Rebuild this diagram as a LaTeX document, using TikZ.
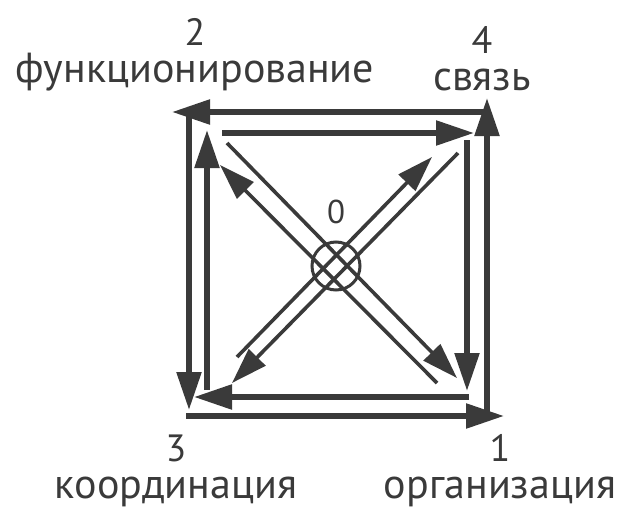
\documentclass[tikz,border=0pt]{standalone}
\usepackage{fontspec}
\setmainfont{PT Sans}
\usepackage{tikz}
\usetikzlibrary{arrows.meta}
\definecolor{ink}{RGB}{58,58,58}
\newcommand{\digitsize}{\fontsize{38}{37}\selectfont}
\tikzset{
  sqarrow/.style={ink, line width=5.5pt, -{Triangle[length=38pt,width=24pt]}},
  diagarrow/.style={ink, line width=3.6pt, -{Triangle[length=36pt,width=23pt]}},
  hub/.style={circle, draw=ink, line width=3pt, minimum size=48pt, inner sep=0pt},
  zerolabel/.style={anchor=base, ink, inner sep=0pt, font=\fontsize{33}{36}\selectfont},
  cornerlabel/.style={anchor=south, ink, inner sep=0pt, align=center,
                      font=\fontsize{42}{37}\selectfont},
}
\begin{document}
\begin{tikzpicture}[x=1pt,y=-1pt]
  \useasboundingbox (0,0) rectangle (619,509);
  % --- kose yazilari ---
  \foreach \k/\x/\y/\w in {2/195/91/функционирование,4/482/91/связь,
                           3/176/507/координация,1/500/507/организация}{
    \node[cornerlabel] (l\k) at (\x,\y) {{\digitsize\k}\\\w};
  }
  % --- dis kare: 1 -> 4 -> 2 -> 3 -> 1 ---
  \coordinate (o1) at (487,416); \coordinate (o4) at (487,112);
  \coordinate (o2) at (189,112); \coordinate (o3) at (186,416);
  \coordinate (o4t) at (487,98);  \coordinate (o2t) at (172,112);
  \coordinate (o3t) at (189,410); \coordinate (o1t) at (504,416);
  \foreach \a/\b in {o1/o4t,o4/o2t,o2/o3t,o3/o1t}{
    \draw[sqarrow] (\a) -- (\b);
  }
  % --- ic kare: 3 -> 2 -> 4 -> 1 -> 3 ---
  \coordinate (i3) at (207,390); \coordinate (i2) at (222,133);
  \coordinate (i4) at (467,140); \coordinate (i1) at (469,397);
  \coordinate (i2t) at (207,130); \coordinate (i4t) at (474,133);
  \coordinate (i1t) at (467,391); \coordinate (i3t) at (194,397);
  \foreach \a/\b in {i3/i2t,i2/i4t,i4/i1t,i1/i3t}{
    \draw[sqarrow] (\a) -- (\b);
  }
  % --- merkez ve kosegenler ---
  \node[hub] (c0) at (336,266) {};
  \node[zerolabel] (n0) at (336,223) {0};
  \coordinate (d1) at (227,143); \coordinate (d1t) at (457,378);
  \coordinate (d2) at (437,383); \coordinate (d2t) at (220,165);
  \coordinate (d4) at (237,357); \coordinate (d4t) at (432,157);
  \coordinate (d3) at (458,153); \coordinate (d3t) at (232,383);
  \foreach \a/\b in {d1/d1t,d2/d2t,d4/d4t,d3/d3t}{
    \draw[diagarrow] (\a) -- (\b);
  }
\end{tikzpicture}
\end{document}
